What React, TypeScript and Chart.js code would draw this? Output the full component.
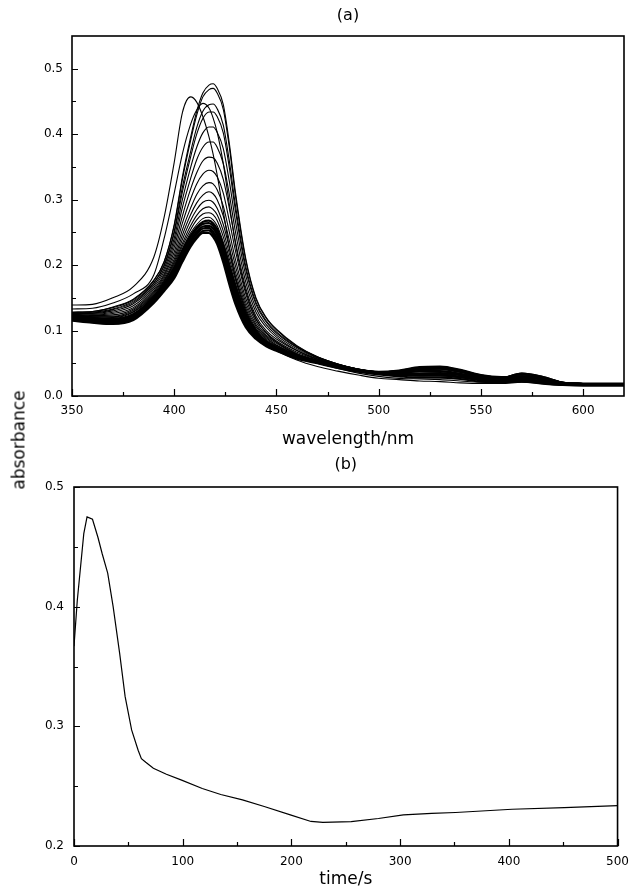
import React, { useEffect, useRef } from "react";
import { Chart, registerables } from "chart.js";

Chart.register(...registerables);

const FONT = "'DejaVu Sans', 'Liberation Sans', Arial, sans-serif";

// ---------- Panel (a): absorption spectra ----------
const wavelengths = [350, 360, 370, 380, 390, 395, 400, 404, 408, 411, 414, 417, 419, 421, 424, 427, 430, 435, 440, 445, 450, 460, 470, 480, 490, 500, 510, 520, 530, 540, 550, 560, 570, 580, 590, 600, 610, 620];

const scan01 = [0.139, 0.140, 0.150, 0.167, 0.212, 0.272, 0.357, 0.433, 0.457, 0.449, 0.427, 0.396, 0.370, 0.338, 0.282, 0.226, 0.180, 0.130, 0.100, 0.082, 0.070, 0.055, 0.045, 0.038, 0.032, 0.027, 0.025, 0.023, 0.022, 0.020, 0.019, 0.019, 0.021, 0.019, 0.016, 0.016, 0.016, 0.016];
const scan02 = [0.133, 0.134, 0.142, 0.156, 0.185, 0.240, 0.310, 0.370, 0.415, 0.437, 0.447, 0.440, 0.425, 0.403, 0.355, 0.292, 0.232, 0.160, 0.118, 0.096, 0.082, 0.063, 0.051, 0.042, 0.035, 0.030, 0.027, 0.026, 0.025, 0.023, 0.021, 0.021, 0.024, 0.021, 0.017, 0.017, 0.016, 0.016];
const scan03 = [0.128, 0.129, 0.136, 0.148, 0.177, 0.205, 0.262, 0.335, 0.395, 0.435, 0.463, 0.475, 0.477, 0.470, 0.445, 0.385, 0.310, 0.210, 0.150, 0.120, 0.102, 0.077, 0.060, 0.049, 0.041, 0.036, 0.032, 0.031, 0.031, 0.028, 0.025, 0.027, 0.035, 0.030, 0.021, 0.019, 0.018, 0.018];
const scan04 = [0.128, 0.129, 0.135, 0.147, 0.176, 0.204, 0.260, 0.331, 0.390, 0.429, 0.457, 0.468, 0.470, 0.463, 0.438, 0.379, 0.305, 0.207, 0.148, 0.119, 0.101, 0.076, 0.060, 0.049, 0.041, 0.036, 0.032, 0.031, 0.032, 0.028, 0.025, 0.027, 0.035, 0.030, 0.021, 0.019, 0.018, 0.018];
const scan05 = [0.127, 0.128, 0.133, 0.145, 0.173, 0.200, 0.252, 0.319, 0.373, 0.410, 0.435, 0.445, 0.446, 0.439, 0.414, 0.358, 0.290, 0.198, 0.143, 0.115, 0.098, 0.075, 0.059, 0.049, 0.041, 0.036, 0.033, 0.033, 0.033, 0.030, 0.026, 0.027, 0.034, 0.029, 0.021, 0.019, 0.018, 0.018];
const scan06 = [0.127, 0.127, 0.132, 0.143, 0.172, 0.198, 0.249, 0.312, 0.365, 0.400, 0.424, 0.434, 0.434, 0.427, 0.402, 0.348, 0.282, 0.193, 0.140, 0.113, 0.096, 0.074, 0.059, 0.048, 0.041, 0.036, 0.033, 0.034, 0.034, 0.030, 0.026, 0.027, 0.034, 0.029, 0.021, 0.019, 0.018, 0.018];
const scan07 = [0.126, 0.126, 0.130, 0.141, 0.169, 0.194, 0.241, 0.300, 0.349, 0.380, 0.402, 0.411, 0.411, 0.403, 0.378, 0.327, 0.266, 0.184, 0.134, 0.109, 0.093, 0.072, 0.058, 0.048, 0.041, 0.036, 0.034, 0.035, 0.035, 0.032, 0.027, 0.028, 0.033, 0.029, 0.021, 0.019, 0.018, 0.018];
const scan08 = [0.126, 0.125, 0.128, 0.138, 0.166, 0.190, 0.234, 0.288, 0.332, 0.361, 0.380, 0.388, 0.388, 0.380, 0.355, 0.307, 0.250, 0.174, 0.128, 0.105, 0.090, 0.070, 0.057, 0.048, 0.041, 0.036, 0.035, 0.037, 0.037, 0.033, 0.028, 0.028, 0.032, 0.028, 0.021, 0.019, 0.018, 0.018];
const scan09 = [0.125, 0.124, 0.126, 0.135, 0.163, 0.186, 0.227, 0.275, 0.316, 0.341, 0.359, 0.365, 0.364, 0.356, 0.331, 0.286, 0.235, 0.165, 0.122, 0.100, 0.087, 0.069, 0.056, 0.047, 0.040, 0.037, 0.036, 0.038, 0.038, 0.034, 0.029, 0.028, 0.032, 0.028, 0.020, 0.019, 0.019, 0.019];
const scan10 = [0.125, 0.123, 0.124, 0.133, 0.160, 0.183, 0.220, 0.264, 0.301, 0.324, 0.339, 0.345, 0.343, 0.335, 0.310, 0.267, 0.221, 0.156, 0.117, 0.097, 0.084, 0.067, 0.056, 0.047, 0.040, 0.037, 0.036, 0.039, 0.040, 0.036, 0.029, 0.028, 0.031, 0.027, 0.020, 0.019, 0.019, 0.019];
const scan11 = [0.124, 0.122, 0.122, 0.131, 0.158, 0.180, 0.214, 0.254, 0.287, 0.308, 0.321, 0.326, 0.324, 0.315, 0.290, 0.250, 0.208, 0.149, 0.113, 0.093, 0.082, 0.065, 0.055, 0.047, 0.040, 0.037, 0.037, 0.040, 0.041, 0.037, 0.030, 0.028, 0.031, 0.027, 0.020, 0.019, 0.019, 0.019];
const scan12 = [0.124, 0.121, 0.121, 0.129, 0.156, 0.177, 0.209, 0.246, 0.277, 0.295, 0.307, 0.312, 0.309, 0.300, 0.275, 0.237, 0.198, 0.143, 0.109, 0.091, 0.080, 0.064, 0.054, 0.047, 0.040, 0.037, 0.038, 0.041, 0.042, 0.037, 0.031, 0.029, 0.030, 0.027, 0.020, 0.019, 0.019, 0.019];
const scan13 = [0.124, 0.121, 0.120, 0.128, 0.154, 0.175, 0.205, 0.239, 0.268, 0.285, 0.296, 0.299, 0.296, 0.287, 0.262, 0.226, 0.189, 0.138, 0.106, 0.089, 0.078, 0.063, 0.054, 0.046, 0.040, 0.037, 0.038, 0.042, 0.043, 0.038, 0.031, 0.029, 0.030, 0.027, 0.020, 0.019, 0.019, 0.019];
const scan14 = [0.124, 0.120, 0.119, 0.126, 0.153, 0.174, 0.202, 0.233, 0.260, 0.276, 0.286, 0.289, 0.285, 0.277, 0.252, 0.217, 0.182, 0.134, 0.103, 0.087, 0.077, 0.063, 0.054, 0.046, 0.040, 0.037, 0.038, 0.043, 0.044, 0.039, 0.031, 0.029, 0.030, 0.026, 0.020, 0.019, 0.019, 0.019];
const scan15 = [0.123, 0.120, 0.118, 0.125, 0.152, 0.172, 0.199, 0.229, 0.254, 0.269, 0.278, 0.280, 0.277, 0.268, 0.243, 0.209, 0.177, 0.130, 0.101, 0.085, 0.076, 0.062, 0.053, 0.046, 0.040, 0.037, 0.039, 0.043, 0.044, 0.039, 0.032, 0.029, 0.029, 0.026, 0.020, 0.019, 0.019, 0.019];
const scan16 = [0.123, 0.119, 0.118, 0.125, 0.151, 0.171, 0.197, 0.225, 0.249, 0.262, 0.271, 0.273, 0.269, 0.260, 0.235, 0.203, 0.171, 0.127, 0.099, 0.084, 0.075, 0.061, 0.053, 0.046, 0.040, 0.037, 0.039, 0.044, 0.045, 0.040, 0.032, 0.029, 0.029, 0.026, 0.020, 0.019, 0.019, 0.019];
// dense late band
const scan17 = [0.123, 0.119, 0.117, 0.124, 0.150, 0.170, 0.195, 0.222, 0.245, 0.258, 0.266, 0.268, 0.264, 0.255, 0.230, 0.198, 0.168, 0.125, 0.098, 0.083, 0.074, 0.061, 0.053, 0.046, 0.040, 0.037, 0.039, 0.044, 0.045, 0.040, 0.032, 0.029, 0.029, 0.026, 0.020, 0.019, 0.019, 0.019];
const scan18 = [0.121, 0.118, 0.116, 0.122, 0.148, 0.168, 0.192, 0.219, 0.242, 0.255, 0.263, 0.264, 0.260, 0.250, 0.225, 0.192, 0.162, 0.121, 0.096, 0.082, 0.073, 0.060, 0.052, 0.045, 0.039, 0.036, 0.037, 0.041, 0.042, 0.037, 0.030, 0.027, 0.028, 0.025, 0.019, 0.018, 0.018, 0.018];
const scan19 = [0.120, 0.116, 0.114, 0.121, 0.147, 0.166, 0.189, 0.215, 0.238, 0.251, 0.259, 0.260, 0.256, 0.246, 0.220, 0.187, 0.157, 0.117, 0.094, 0.080, 0.072, 0.059, 0.052, 0.045, 0.039, 0.035, 0.035, 0.038, 0.038, 0.034, 0.028, 0.026, 0.026, 0.023, 0.019, 0.018, 0.018, 0.018];
const scan20 = [0.118, 0.115, 0.113, 0.119, 0.145, 0.164, 0.186, 0.212, 0.235, 0.248, 0.256, 0.257, 0.251, 0.241, 0.214, 0.181, 0.151, 0.113, 0.091, 0.079, 0.071, 0.059, 0.051, 0.044, 0.038, 0.035, 0.034, 0.034, 0.035, 0.032, 0.026, 0.024, 0.025, 0.022, 0.018, 0.017, 0.017, 0.017];
const scan21 = [0.117, 0.113, 0.111, 0.118, 0.144, 0.162, 0.183, 0.208, 0.231, 0.244, 0.252, 0.253, 0.247, 0.237, 0.209, 0.176, 0.146, 0.109, 0.089, 0.077, 0.070, 0.058, 0.051, 0.044, 0.038, 0.034, 0.032, 0.031, 0.031, 0.029, 0.024, 0.023, 0.023, 0.020, 0.018, 0.017, 0.017, 0.017];
const scan22 = [0.115, 0.112, 0.110, 0.116, 0.142, 0.160, 0.180, 0.205, 0.228, 0.241, 0.249, 0.249, 0.243, 0.232, 0.204, 0.170, 0.140, 0.105, 0.087, 0.076, 0.069, 0.057, 0.050, 0.043, 0.037, 0.033, 0.030, 0.028, 0.028, 0.026, 0.022, 0.021, 0.022, 0.019, 0.017, 0.016, 0.016, 0.016];

const thinScans = [scan01, scan02, scan03, scan04, scan05, scan06, scan07, scan08, scan09, scan10, scan11, scan12, scan13, scan14, scan15, scan16];
const bandScans = [scan17, scan18, scan19, scan20, scan21, scan22];

const xMajorA = [350, 400, 450, 500, 550, 600];
const xMinorA = [375, 425, 475, 525, 575];
const yMajorA = [0, 0.1, 0.2, 0.3, 0.4, 0.5];
const yMinorA = [0.05, 0.15, 0.25, 0.35, 0.45];

// ---------- Panel (b): kinetic trace ----------
const timeSeconds = [0, 3, 9, 12, 17, 22, 26, 31, 36, 42, 47, 53, 59, 62, 66, 73, 85, 99, 118, 135, 155, 175, 199, 218, 229, 255, 280, 303, 329, 351, 403, 451, 500];
const traceAbsorbance = [0.367, 0.405, 0.461, 0.475, 0.473, 0.458, 0.444, 0.428, 0.400, 0.361, 0.325, 0.297, 0.280, 0.273, 0.270, 0.265, 0.260, 0.255, 0.248, 0.243, 0.2385, 0.233, 0.226, 0.2205, 0.2198, 0.2203, 0.223, 0.226, 0.2273, 0.228, 0.2307, 0.232, 0.2337];

const xMajorB = [0, 100, 200, 300, 400, 500];
const xMinorB = [50, 150, 250, 350, 450];
const yMajorB = [0.2, 0.3, 0.4, 0.5];
const yMinorB = [0.25, 0.35, 0.45];

function makeFramePlugin(xMaj: number[], xMin: number[], yMaj: number[], yMin: number[]) {
  return {
    id: "frameTicks",
    afterDatasetsDraw(chart: any) {
      const { ctx, chartArea, scales } = chart;
      const { left, top, right, bottom } = chartArea;
      const xs = scales.x;
      const ys = scales.y;
      ctx.save();
      ctx.strokeStyle = "#000";
      ctx.lineWidth = 1.2;
      ctx.beginPath();
      xMaj.forEach((v) => {
        const p = Math.round(xs.getPixelForValue(v)) + 0.5;
        ctx.moveTo(p, bottom);
        ctx.lineTo(p, bottom - 7);
      });
      xMin.forEach((v) => {
        const p = Math.round(xs.getPixelForValue(v)) + 0.5;
        ctx.moveTo(p, bottom);
        ctx.lineTo(p, bottom - 4);
      });
      yMaj.forEach((v) => {
        const p = Math.round(ys.getPixelForValue(v)) + 0.5;
        ctx.moveTo(left, p);
        ctx.lineTo(left + 6, p);
      });
      yMin.forEach((v) => {
        const p = Math.round(ys.getPixelForValue(v)) + 0.5;
        ctx.moveTo(left, p);
        ctx.lineTo(left + 4, p);
      });
      ctx.stroke();
      ctx.lineWidth = 1.6;
      ctx.strokeRect(left, top, right - left, bottom - top);
      ctx.restore();
    },
  };
}

function axisCommon(majors: number[], size: (s: any) => void, pad: number, fmt: (v: number) => string) {
  return {
    afterBuildTicks: (s: any) => {
      s.ticks = majors.map((v) => ({ value: v }));
    },
    afterFit: size,
    grid: { display: false, drawTicks: false, tickLength: 0 },
    border: { display: false },
    ticks: {
      color: "#000",
      font: { family: FONT, size: 12 },
      padding: pad,
      maxRotation: 0,
      autoSkip: false,
      callback: (v: any) => fmt(Number(v)),
    },
  };
}

function SpectraChart() {
  const ref = useRef<HTMLCanvasElement | null>(null);
  useEffect(() => {
    if (!ref.current) return;
    const datasets: any[] = [];
    thinScans.forEach((row) => {
      datasets.push({
        data: wavelengths.map((w, j) => ({ x: w, y: row[j] })),
        borderColor: "#000",
        borderWidth: 1.1,
        pointRadius: 0,
        fill: false,
        cubicInterpolationMode: "monotone",
      });
    });
    bandScans.forEach((row) => {
      datasets.push({
        data: wavelengths.map((w, j) => ({ x: w, y: row[j] })),
        borderColor: "#000",
        borderWidth: 2.2,
        pointRadius: 0,
        fill: false,
        cubicInterpolationMode: "monotone",
      });
    });
    const chart = new Chart(ref.current, {
      type: "line",
      data: { datasets },
      plugins: [makeFramePlugin(xMajorA, xMinorA, yMajorA, yMinorA)],
      options: {
        animation: false,
        responsive: false,
        maintainAspectRatio: false,
        layout: { padding: { left: 0, right: 14, top: 0, bottom: 0 } },
        plugins: {
          legend: { display: false },
          tooltip: { enabled: false },
          title: {
            display: true,
            text: "(a)",
            color: "#000",
            fullSize: false,
            font: { family: FONT, size: 16, weight: "normal" },
            padding: { top: 6, bottom: 10.8 },
          },
        },
        scales: {
          x: {
            type: "linear",
            min: 350,
            max: 620,
            ...axisCommon(xMajorA, (s: any) => { s.height = 54; }, 8, (v) => String(v)),
            title: {
              display: true,
              text: "wavelength/nm",
              color: "#000",
              font: { family: FONT, size: 17 },
              padding: { top: 0, bottom: 0 },
            },
          },
          y: {
            type: "linear",
            min: 0,
            max: 0.55,
            ...axisCommon(yMajorA, (s: any) => { s.width = 72; }, 9, (v) => v.toFixed(1)),
          },
        },
      } as any,
    });
    return () => chart.destroy();
  }, []);
  return <canvas ref={ref} width={638} height={450} style={{ position: "absolute", left: 0, top: 0 }} />;
}

function TraceChart() {
  const ref = useRef<HTMLCanvasElement | null>(null);
  useEffect(() => {
    if (!ref.current) return;
    const chart = new Chart(ref.current, {
      type: "line",
      data: {
        datasets: [
          {
            data: timeSeconds.map((t, j) => ({ x: t, y: traceAbsorbance[j] })),
            borderColor: "#000",
            borderWidth: 1.2,
            pointRadius: 0,
            fill: false,
            tension: 0,
          },
        ],
      },
      plugins: [makeFramePlugin(xMajorB, xMinorB, yMajorB, yMinorB)],
      options: {
        animation: false,
        responsive: false,
        maintainAspectRatio: false,
        layout: { padding: { left: 0, right: 14, top: 0, bottom: 0 } },
        plugins: {
          legend: { display: false },
          tooltip: { enabled: false },
          title: {
            display: true,
            text: "(b)",
            color: "#000",
            fullSize: false,
            font: { family: FONT, size: 16, weight: "normal" },
            padding: { top: 5, bottom: 12.8 },
          },
        },
        scales: {
          x: {
            type: "linear",
            min: 0,
            max: 500,
            ...axisCommon(xMajorB, (s: any) => { s.height = 50; }, 9, (v) => String(v)),
            title: {
              display: true,
              text: "time/s",
              color: "#000",
              font: { family: FONT, size: 17 },
              padding: { top: 0, bottom: 6 },
            },
          },
          y: {
            type: "linear",
            min: 0.2,
            max: 0.5,
            ...axisCommon(yMajorB, (s: any) => { s.width = 74; }, 10, (v) => v.toFixed(1)),
          },
        },
      } as any,
    });
    return () => chart.destroy();
  }, []);
  return <canvas ref={ref} width={638} height={446} style={{ position: "absolute", left: 0, top: 450 }} />;
}

export default function App() {
  return (
    <div style={{ position: "absolute", left: 0, top: 0, width: 638, height: 896, background: "#fff", overflow: "hidden" }}>
      <SpectraChart />
      <TraceChart />
      <div
        style={{
          position: "absolute",
          left: 19,
          top: 440,
          transform: "translate(-50%, -50%) rotate(-90deg)",
          fontFamily: FONT,
          fontSize: 17,
          lineHeight: 1,
          whiteSpace: "nowrap",
          color: "#000",
        }}
      >
        absorbance
      </div>
    </div>
  );
}
